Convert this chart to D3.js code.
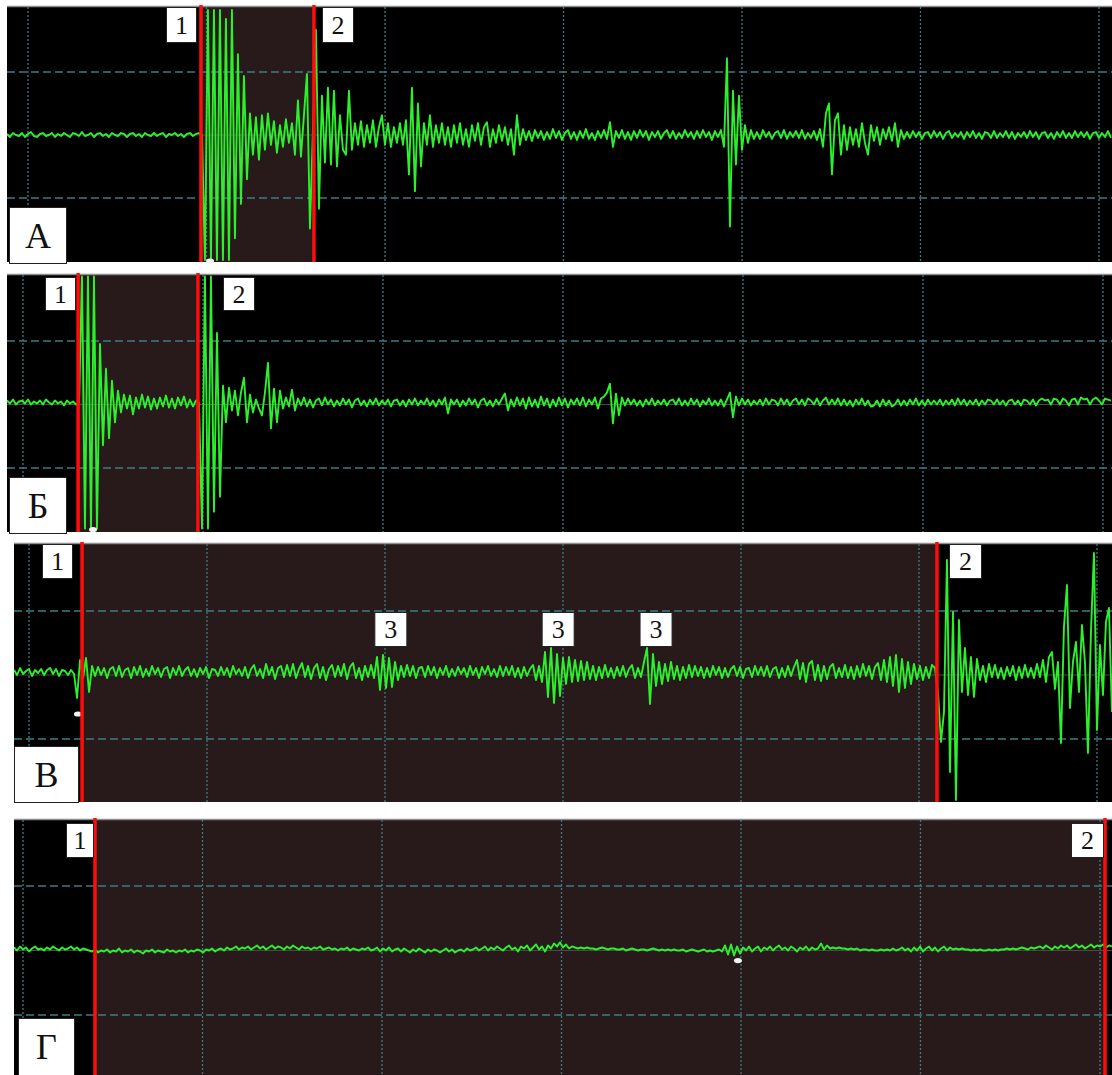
<!DOCTYPE html>
<html>
<head>
<meta charset="utf-8">
<script src="https://cdn.jsdelivr.net/npm/d3@7"></script>
<style>
  html, body { margin: 0; padding: 0; background: #fff; }
  svg { display: block; }
  .lbl { font-family: "Liberation Serif", "Times New Roman", serif; fill: #111; }
</style>
</head>
<body>
<svg id="chart" width="1112" height="1075"></svg>
<script>
// ---- data (amplitude units: 64 = one vertical division; time in horizontal divisions) ----
var panelNames = ["А", "Б", "В", "Г"];
var cursorLabels = ["1", "2"];
var eventLabel = "3";

// recorded signal, one sample every ~3 px of screen
var samplesA = [
  1,-2,2,0,-1,2,-2,1,3,-1,
  -2,1,2,-1,0,2,-2,1,-1,2,
  0,-2,2,1,-1,3,-1,0,2,-2,
  1,2,-1,1,-2,2,0,-1,2,1,
  -2,1,2,-1,1,-2,2,0,-1,2,
  -1,1,2,-2,1,0,2,-1,1,-2,
  1,2,-1,1,2,0,-127,127,-127,127,
  -127,127,-127,118,-127,127,-105,82,-70,60,
  -45,22,-20,18,-25,20,-15,22,-10,14,
  -18,10,-12,16,-8,12,-20,35,-22,20,
  62,-95,4,107,-75,40,-28,48,-30,45,
  -32,20,-15,-20,45,-15,12,-10,14,-12,
  10,-8,15,-12,8,20,-10,12,-12,8,
  -8,12,-10,15,-40,48,-57,32,-32,12,
  -10,20,-12,10,-8,12,-10,8,-12,10,
  -8,12,-10,6,-12,10,-6,12,-10,8,
  13,-12,6,-8,10,-6,8,-10,6,-20,
  20,-10,6,-5,4,-6,5,-3,4,-5,
  3,-4,6,-3,4,-5,2,5,-4,3,
  -5,4,-3,6,-4,2,-5,4,-3,5,
  -4,13,-12,4,-3,5,-4,3,-5,4,
  -3,5,-2,4,-5,3,-2,4,-4,2,
  5,-3,4,-4,2,-3,5,-2,3,-4,
  4,-3,5,-2,3,-5,4,-2,5,-12,
  78,-93,45,-30,40,-15,10,-8,5,-4,
  3,-4,5,-2,3,-4,2,4,-3,5,
  -4,3,-2,4,-3,5,-4,2,-3,4,
  -5,6,-12,22,32,-40,15,22,-20,10,
  -15,8,-10,6,-12,12,-8,-20,10,-6,
  8,-10,6,-4,8,-6,12,-12,5,-4,
  3,-3,4,-2,3,-4,2,3,-3,4,
  -2,3,-4,2,4,-3,2,-2,3,-4,
  3,-2,4,-3,2,-4,3,2,-3,4,
  -3,2,-2,4,-3,3,-4,2,-2,3,
  -3,4,-2,3,-4,2,3,-3,2,-4,
  3,-2,4,-3,2,-3,4,-2,3,-2,
  3,-4,2,3,-3,2,-2,4,-3
];
var samplesB = [
  2,-1,3,-2,1,2,-1,3,-2,1,
  -1,2,-2,3,0,-2,2,-1,1,-3,
  2,-1,1,-2,0,127,-127,127,-127,127,
  -127,59,-43,34,-36,22,-20,12,-10,8,
  -6,7,-12,5,-6,8,-5,6,-7,4,
  -6,5,-4,7,-5,4,-6,5,-3,6,
  -5,3,-4,2,0,-127,127,-127,127,-110,
  70,-95,17,-20,15,-8,12,-13,10,25,
  -20,8,-10,3,-6,-13,10,40,-26,14,
  -20,12,-6,5,-4,13,-8,4,-3,5,
  -4,3,-5,2,4,-3,5,-2,3,-4,
  2,-3,4,-2,3,-5,2,4,-3,2,
  -4,3,-2,4,-3,2,-2,3,-4,2,
  3,-3,2,-4,3,-2,4,-3,2,-2,
  4,-3,2,-4,3,-2,5,-11,3,-2,
  3,-4,2,-3,4,-2,3,-5,2,4,
  -3,2,-4,3,-2,4,9,-8,3,-4,
  5,-3,4,-6,5,-4,3,-5,6,-3,
  4,-5,3,-4,5,-3,4,-5,3,-2,
  4,-3,5,-4,3,-2,5,-6,4,6,
  10,19,-21,9,-13,5,-3,4,-2,3,
  -3,2,-4,3,-2,4,-3,2,-2,3,
  -3,2,3,-2,4,-3,2,-3,4,-2,
  3,-4,2,-2,4,-3,2,-3,3,-4,
  3,10,-15,6,-3,4,-2,3,-3,2,
  -2,3,-3,4,-2,3,2,-3,4,-2,
  3,-3,2,4,-2,3,-3,4,2,-2,
  4,-3,2,5,-2,3,-2,4,-3,3,
  -3,2,-4,3,-2,4,-3,2,-4,-3,
  2,-4,3,-3,2,-4,-2,3,-3,2,
  -3,3,-2,4,-3,2,-3,3,-2,2,
  -2,3,-3,2,-2,3,-3,4,-2,3,
  -3,2,-2,3,-3,2,-2,3,2,-2,
  3,-2,2,-3,2,3,-2,2,-3,3,
  2,-2,3,-3,2,4,2,3,-2,4,
  3,-2,4,2,-3,3,4,-2,5,3,
  4,-2,3,5,2,-2,4,3,2
];
var samplesV = [
  2,-3,4,-2,1,3,-4,2,-1,3,
  -3,2,4,-2,3,-4,2,1,-3,2,
  -2,-26,12,-6,14,-20,6,-4,5,-3,
  4,-6,3,5,-4,6,-5,2,4,-6,
  5,-3,6,-5,3,-4,6,-2,4,-5,
  3,5,-6,4,-3,6,-4,2,5,-4,
  3,-5,4,-2,5,-6,3,2,-4,5,
  -3,4,-5,6,-2,3,-4,5,-6,3,
  7,-4,3,-6,8,-3,5,-7,4,6,
  -5,7,-4,8,-6,3,9,-5,6,-7,
  4,8,-6,5,-8,3,7,-5,6,-4,
  8,-7,5,9,-6,4,-8,6,-5,7,
  -6,15,-18,17,-16,14,-15,10,-8,6,
  -5,7,-4,6,-6,4,5,-5,6,-3,
  5,-6,4,-3,6,-5,3,-4,5,-2,
  4,-5,6,-3,4,-6,5,-2,6,-4,
  3,-5,6,-4,5,-3,6,-5,4,-6,
  5,-4,3,7,-8,6,-10,20,-25,24,
  -31,18,-24,14,-12,15,-10,12,-9,11,
  -8,10,-7,6,-8,5,-6,7,-5,4,
  -6,5,-4,6,-5,3,7,-6,4,-5,
  10,24,-32,18,-14,10,-12,8,-9,10,
  -7,6,-8,5,-6,7,-5,6,-4,5,
  -6,4,-5,6,-3,5,-6,4,-5,3,
  6,-4,5,-6,3,4,-5,6,-3,5,
  -4,6,-5,3,5,-6,4,-5,6,-4,
  5,12,-7,9,-10,8,11,-8,7,-9,
  6,-7,5,8,-6,4,-5,7,-6,5,
  -7,6,-5,8,-4,6,-7,5,9,-8,
  12,-10,15,-14,17,-20,13,-16,10,-12,
  8,-7,6,-8,5,-6,7,4,-20,-70,
  -40,112,-100,60,-128,52,-20,24,-23,15,
  -25,13,-8,6,-10,8,-5,7,-6,4,
  -7,5,-4,6,-8,5,-6,7,-5,4,
  -6,8,-5,12,-10,15,20,-17,10,-71,
  45,87,-36,10,30,-20,47,10,-81,40,
  119,-58,27,-23,50,64,-40
];
var samplesG = [
  2,-1,3,0,2,-2,1,3,0,1,
  -1,2,0,3,1,-1,2,0,1,3,
  0,2,-1,1,0,-1,-2,0,-3,-1,
  -2,0,-3,-1,-2,1,-3,-1,-2,0,
  -3,-1,-2,-4,-1,-2,0,-3,-1,-2,
  -3,0,-2,-1,-3,-1,-2,0,-3,-1,
  -2,0,-1,-3,0,-1,1,-2,0,1,
  -1,2,0,1,3,0,2,1,3,0,
  2,4,1,3,0,2,4,1,3,2,
  0,3,1,4,2,0,3,1,2,0,
  2,1,3,0,1,2,0,1,-1,1,
  0,2,-1,1,0,-1,1,0,2,-1,
  0,2,-2,1,-1,2,-2,0,1,-2,
  1,-1,-3,0,-2,1,-1,-3,0,-2,
  0,-1,-3,-1,1,-2,0,-3,-1,0,
  -2,1,-1,0,2,-1,1,3,-1,2,
  0,3,1,-1,2,4,0,2,-2,3,
  1,4,-1,2,5,0,3,-2,4,1,
  6,3,7,2,5,1,3,2,1,2,
  1,2,1,1,0,1,2,1,0,1,
  1,0,0,1,-1,0,1,0,-1,0,
  0,-1,0,1,0,-1,0,-1,0,-1,
  0,-1,-1,0,-2,-1,0,-1,-2,-1,
  0,-2,-1,-2,-1,0,-2,4,-5,5,
  -6,3,-4,2,-1,3,-2,1,3,-2,
  2,0,3,-1,2,4,0,2,-1,3,
  1,-2,2,0,3,-1,2,0,1,6,
  0,4,1,2,1,2,1,1,0,1,
  0,1,-1,0,0,-1,0,-1,-1,0,
  -1,0,-1,1,-1,0,2,-1,1,-2,
  2,-1,3,-2,1,3,-1,2,-2,1,
  3,-1,2,0,1,0,1,0,0,-1,
  0,-1,0,-1,-1,0,-1,0,-1,0,
  0,1,0,1,0,1,2,1,0,2,
  1,2,3,1,4,2,0,3,1,4,
  2,4,1,3,5,2,4,1,3,5,
  2,4,3,5,2,4,3
];

var baselines = [0, 2, 3, 1];                       // trace offset per panel
var timeWindows = [[-0.118, 6.067], [-0.089, 6.044], [-0.084, 6.084], [-0.050, 6.067]];
var cursorTimes = [[0.969, 1.602], [0.306, 0.972], [0.298, 5.101], [0.401, 6.028]];
var eventTimes = [2.03, 2.97, 3.52];                // "3" marks in panel В
var markerDots = [[1.02, -128], [0.389, -126], [0.275, -39], [3.983, -10]];
var gridTimes = [0, 1, 2, 3, 4, 5, 6];
var gridLevels = [-64, 64];

// ---- layout ----
var panels = [
  {name: panelNames[0], data: samplesA, left: 7,  top: 7,   bottom: 262,  cy: 135,   div: 63,   gx0: 28, gstep: 178.5,
   c1: [166, 7, 30, 35], c2: [322, 7, 31, 35], nameBox: [9, 207, 57, 56]},
  {name: panelNames[1], data: samplesB, left: 7,  top: 275, bottom: 532,  cy: 404.5, div: 63.5, gx0: 23, gstep: 180,
   c1: [45, 277, 30, 33], c2: [223, 277, 31, 33], nameBox: [9, 477, 57, 56]},
  {name: panelNames[2], data: samplesV, left: 14, top: 544, bottom: 802,  cy: 675,   div: 64,   gx0: 29, gstep: 178,
   c1: [42, 544, 30, 34], c2: [949, 544, 32, 34], nameBox: [14, 746, 64, 56]},
  {name: panelNames[3], data: samplesG, left: 14, top: 820, bottom: 1075, cy: 950.5, div: 64.5, gx0: 23, gstep: 179.5,
   c1: [66, 823, 27, 34], c2: [1071, 823, 32, 34], nameBox: [18, 1018, 56, 57]}
];
var right = 1112;

var svg = d3.select("#chart");
svg.append("rect").attr("width", 1112).attr("height", 1075).attr("fill", "#fff");

panels.forEach(function(p, pi) {
  var x = d3.scaleLinear().domain([0, 6]).range([p.gx0, p.gx0 + 6 * p.gstep]);
  var y = d3.scaleLinear().domain([-64, 64]).range([p.cy + p.div, p.cy - p.div]);
  var g = svg.append("g");

  // screen background and the shaded span between the cursors
  g.append("rect").attr("x", p.left).attr("y", p.top)
    .attr("width", right - p.left).attr("height", p.bottom - p.top).attr("fill", "#000");
  var cx1 = x(cursorTimes[pi][0]), cx2 = x(cursorTimes[pi][1]);
  g.append("rect").attr("x", cx1).attr("y", p.top)
    .attr("width", cx2 - cx1).attr("height", p.bottom - p.top).attr("fill", "#281a1a");
  g.append("line").attr("x1", p.left).attr("x2", right).attr("y1", p.top - 0.5).attr("y2", p.top - 0.5)
    .attr("stroke", "#8d8d8d").attr("stroke-width", 1.5);

  // grid
  g.selectAll(".vg").data(gridTimes.filter(function(t) { return x(t) > p.left && x(t) < right; }))
    .enter().append("line")
    .attr("x1", function(d) { return x(d); }).attr("x2", function(d) { return x(d); })
    .attr("y1", p.top).attr("y2", p.bottom)
    .attr("stroke", "#3a7c82").attr("stroke-width", 1.3).attr("stroke-dasharray", "2,2");
  g.selectAll(".hg").data(gridLevels).enter().append("line")
    .attr("x1", p.left).attr("x2", right)
    .attr("y1", function(d) { return y(d); }).attr("y2", function(d) { return y(d); })
    .attr("stroke", "#3a7c82").attr("stroke-width", 1.3).attr("stroke-dasharray", "8,4");
  g.append("line").attr("x1", p.left).attr("x2", right).attr("y1", y(0)).attr("y2", y(0))
    .attr("stroke", "#4a4a4a").attr("stroke-width", 1);

  // trace
  var clipId = "clip" + pi;
  svg.append("clipPath").attr("id", clipId).append("rect")
    .attr("x", p.left).attr("y", p.top).attr("width", right - p.left).attr("height", p.bottom - p.top);
  var w = timeWindows[pi], n = p.data.length;
  var tScale = d3.scaleLinear().domain([0, n - 1]).range(w);
  var line = d3.line()
    .x(function(d, i) { return x(tScale(i)); })
    .y(function(d) { return y(d + baselines[pi]); });
  g.append("path").datum(p.data).attr("clip-path", "url(#" + clipId + ")")
    .attr("d", line).attr("fill", "none").attr("stroke", "#2cf02c")
    .attr("stroke-width", 1.9).attr("stroke-linejoin", "round");

  // marker dot
  g.append("ellipse").attr("cx", x(markerDots[pi][0])).attr("cy", y(markerDots[pi][1]))
    .attr("rx", 4).attr("ry", 2.6).attr("fill", "#f2f2f2");

  // cursors
  g.selectAll(".cur").data(cursorTimes[pi]).enter().append("line")
    .attr("x1", function(d) { return x(d); }).attr("x2", function(d) { return x(d); })
    .attr("y1", p.top - 2).attr("y2", p.bottom)
    .attr("stroke", "#ff0d0d").attr("stroke-width", 3.5);

  // label boxes
  function box(b, txt, size) {
    g.append("rect").attr("x", b[0] + 0.5).attr("y", b[1] + 0.5).attr("width", b[2]).attr("height", b[3])
      .attr("fill", "#fff").attr("stroke", "#222").attr("stroke-width", 1);
    g.append("text").attr("class", "lbl").attr("x", b[0] + b[2] / 2 + 0.5).attr("y", b[1] + b[3] / 2 + size * 0.35)
      .attr("text-anchor", "middle").attr("font-size", size).text(txt);
  }
  box(p.c1, cursorLabels[0], 26);
  box(p.c2, cursorLabels[1], 26);
  box(p.nameBox, p.name, 36);

  if (pi === 2) {
    eventTimes.forEach(function(t) {
      box([x(t) - 16, 612, 32, 34], eventLabel, 26);
    });
  }
});
</script>
</body>
</html>
